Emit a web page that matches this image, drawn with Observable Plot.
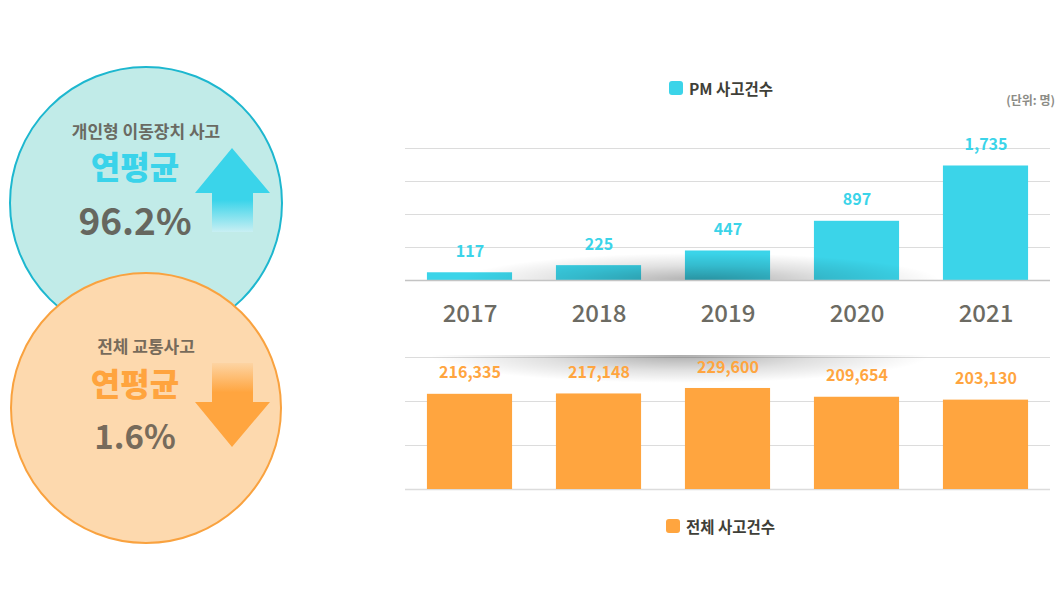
<!DOCTYPE html>
<html><head><meta charset="utf-8">
<script src="https://cdn.jsdelivr.net/npm/d3@7"></script>
<script src="https://cdn.jsdelivr.net/npm/@observablehq/plot@0.6"></script>
<style>
body{margin:0;background:#fff;}
#wrap{position:relative;width:1064px;height:598px;overflow:hidden;font-family:"Noto Sans CJK KR","Noto Sans",sans-serif;}
.layer{position:absolute;left:0;top:0;}
.legend{position:absolute;display:flex;align-items:center;font-weight:700;font-size:15.5px;color:#3f3f38;line-height:16px;}
.legend i{display:inline-block;width:14px;height:14px;border-radius:3px;margin-right:6px;}
.unit{position:absolute;right:9px;top:91px;font-size:12px;font-weight:700;color:#8c8c86;}
</style></head><body>
<div id="wrap">
  <svg id="deco" class="layer" width="1064" height="598"></svg>
  <div id="pm" class="layer"></div>
  <div id="total" class="layer"></div>
  <div class="legend" style="left:669px;top:80px"><i style="background:#3bd4e9"></i>PM 사고건수</div>
  <div class="unit">(단위: 명)</div>
  <div class="legend" style="left:666px;top:518px"><i style="background:#ffa53f"></i>전체 사고건수</div>
</div>
<script>
const years = ["2017", "2018", "2019", "2020", "2021"];
const pmValues = [117, 225, 447, 897, 1735];
const totalValues = [216335, 217148, 229600, 209654, 203130];
const pmTicks = [500, 1000, 1500, 2000];
const totalTicks = [100000, 200000, 300000];

const pmData = years.map((year, i) => ({year, value: pmValues[i]}));
const totalData = years.map((year, i) => ({year, value: totalValues[i]}));
const fmt = d3.format(",");
const CYAN = "#3bd4e9", ORANGE = "#ffa53f", GRAY = "#6c6b63";
const FONT = '"Noto Sans CJK KR","Noto Sans",sans-serif';

function addShadow(svg, id, cx, cy, rx, ry, clipY0, clipY1, afterSelector) {
  const g = d3.create("svg:g");
  const defs = g.append("defs");
  const grad = defs.append("radialGradient").attr("id", id + "g");
  grad.append("stop").attr("offset", "0%").attr("stop-color", "#000").attr("stop-opacity", 0.32);
  grad.append("stop").attr("offset", "55%").attr("stop-color", "#000").attr("stop-opacity", 0.12);
  grad.append("stop").attr("offset", "100%").attr("stop-color", "#000").attr("stop-opacity", 0);
  defs.append("clipPath").attr("id", id + "c").append("rect")
    .attr("x", 0).attr("y", clipY0).attr("width", 1064).attr("height", clipY1 - clipY0);
  g.append("ellipse").attr("cx", cx).attr("cy", cy).attr("rx", rx).attr("ry", ry)
    .attr("fill", `url(#${id}g)`).attr("clip-path", `url(#${id}c)`);
  const ref = svg.querySelector(afterSelector);
  if (ref) ref.parentNode.insertBefore(g.node(), ref.nextSibling);
  else svg.appendChild(g.node());
}

const xOpts = {domain: years, paddingInner: 0.34, paddingOuter: 0.17, round: false, axis: null};

const pm = Plot.plot({
  width: 1064, height: 340,
  marginTop: 148, marginBottom: 60, marginLeft: 405, marginRight: 14,
  style: {fontFamily: FONT, overflow: "visible", background: "transparent"},
  x: xOpts,
  y: {domain: [0, 2000], axis: null},
  marks: [
    Plot.ruleY(pmTicks, {stroke: "#dcdcdc", strokeWidth: 1}),
    Plot.barY(pmData, {x: "year", y: "value", fill: CYAN}),
    Plot.ruleY([0], {stroke: "#c4c4c4", strokeWidth: 1.5}),
    Plot.text(pmData, {x: "year", y: "value", text: d => fmt(d.value), dy: -21,
      fill: CYAN, fontSize: 16, fontWeight: 700}),
    Plot.text(pmData, {x: "year", text: "year", frameAnchor: "bottom", lineAnchor: "middle", dy: 34,
      fill: GRAY, fontSize: 24, fontWeight: 500})
  ]
});
addShadow(pm, "s1", 700, 281, 240, 28, 250, 281, 'g[aria-label="bar"]');
document.getElementById("pm").appendChild(pm);

const total = Plot.plot({
  width: 1064, height: 598,
  marginTop: 357, marginBottom: 109, marginLeft: 405, marginRight: 14,
  style: {fontFamily: FONT, overflow: "visible", background: "transparent"},
  x: xOpts,
  y: {domain: [0, 300000], axis: null},
  marks: [
    Plot.ruleY(totalTicks, {stroke: "#dcdcdc", strokeWidth: 1}),
    Plot.ruleY([0], {stroke: "#dcdcdc", strokeWidth: 1.5}),
    Plot.barY(totalData, {x: "year", y: "value", fill: ORANGE}),
    Plot.text(totalData, {x: "year", y: "value", text: d => fmt(d.value), dy: -21,
      fill: ORANGE, fontSize: 16, fontWeight: 700})
  ]
});
addShadow(total, "s2", 680, 355, 250, 28, 355, 390, 'g[aria-label="rule"]');
document.getElementById("total").appendChild(total);

// left infographic
const deco = d3.select("#deco");
const defs = deco.append("defs");
const gu = defs.append("linearGradient").attr("id", "gu").attr("x1", 0).attr("y1", 0).attr("x2", 0).attr("y2", 1);
gu.append("stop").attr("offset", "0%").attr("stop-color", "#3ad4ea");
gu.append("stop").attr("offset", "62%").attr("stop-color", "#3ad4ea");
gu.append("stop").attr("offset", "100%").attr("stop-color", "#c8eff3");
const gd = defs.append("linearGradient").attr("id", "gd").attr("x1", 0).attr("y1", 0).attr("x2", 0).attr("y2", 1);
gd.append("stop").attr("offset", "0%").attr("stop-color", "#fdd4a3");
gd.append("stop").attr("offset", "35%").attr("stop-color", "#ffa53f");
gd.append("stop").attr("offset", "100%").attr("stop-color", "#ffa53f");

deco.append("circle").attr("cx", 146).attr("cy", 203).attr("r", 136)
  .attr("fill", "#c1ebe8").attr("stroke", "#1db7cf").attr("stroke-width", 2);
deco.append("polygon").attr("points", "232,148 270,193 253,193 253,232 212,232 212,193 195,193")
  .attr("fill", "url(#gu)");
deco.append("circle").attr("cx", 146).attr("cy", 408).attr("r", 135)
  .attr("fill", "#fdd9ae").attr("stroke", "#f9a23f").attr("stroke-width", 2);
deco.append("polygon").attr("points", "212,363 253,363 253,402 270,402 232,447 195,402 212,402")
  .attr("fill", "url(#gd)");

const labels = [
  {t: "개인형 이동장치 사고", x: 146, y: 138, s: 17, w: 700, c: "#6a6a62"},
  {t: "연평균", x: 135, y: 179, s: 32, w: 900, c: "#3ad3ea"},
  {t: "96.2%", x: 135, y: 235, s: 37, w: 700, c: "#66675f"},
  {t: "전체 교통사고", x: 146, y: 353, s: 17, w: 700, c: "#776b5b"},
  {t: "연평균", x: 135, y: 396, s: 32, w: 900, c: "#ffa43e"},
  {t: "1.6%", x: 135, y: 449, s: 33, w: 700, c: "#776b5b"}
];
labels.forEach(l => deco.append("text").attr("x", l.x).attr("y", l.y)
  .attr("text-anchor", "middle").attr("font-family", FONT).attr("font-size", l.s)
  .attr("font-weight", l.w).attr("fill", l.c).text(l.t));
</script>
</body></html>
